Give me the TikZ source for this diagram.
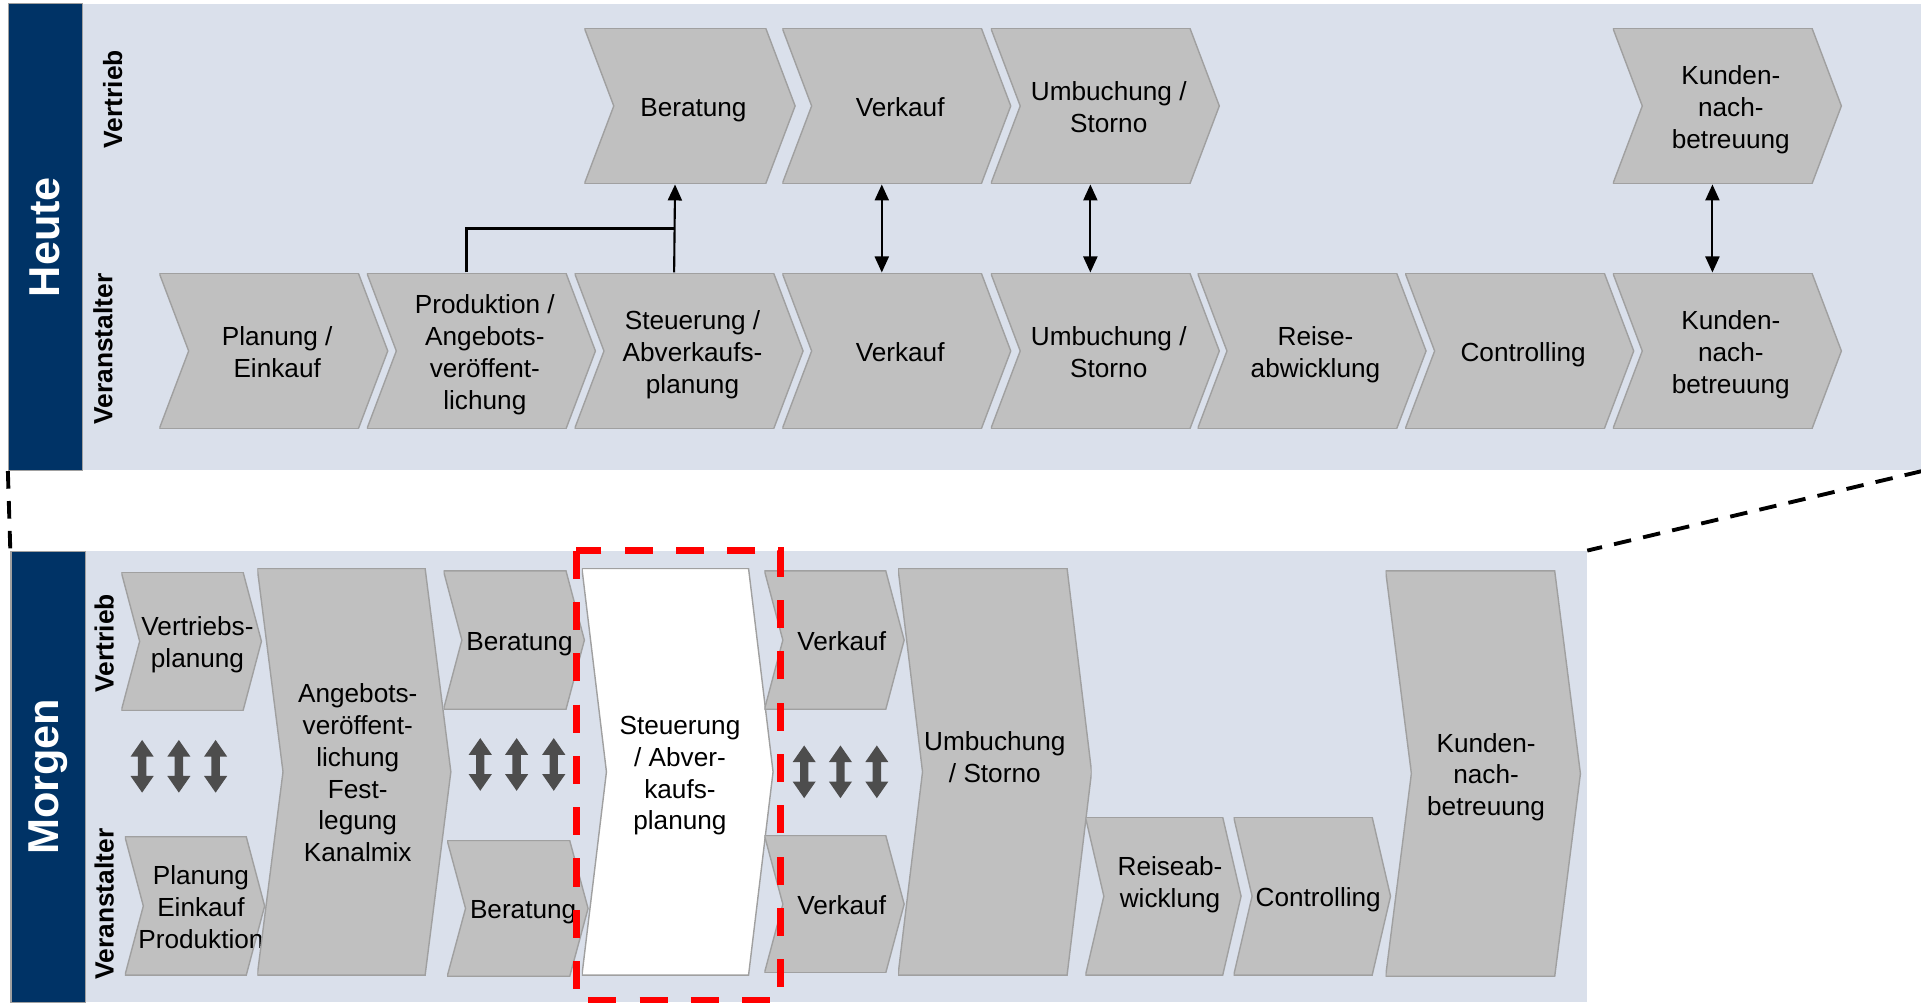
\documentclass[tikz,border=0pt]{standalone}
\usepackage{fontspec}
\setmainfont{Liberation Sans}
\usetikzlibrary{calc,arrows.meta}
\definecolor{panelbg}{HTML}{DAE0EB}
\definecolor{navy}{HTML}{003366}
\definecolor{chevgray}{HTML}{C0C0C0}
\definecolor{chevline}{HTML}{A0A0A0}
\definecolor{arrowgray}{HTML}{4D4D4D}
\def\pxu{0.012251cm}
\newcommand{\chevstrut}{\vrule height 7.4pt depth 0pt width 0pt}

\begin{document}
\begin{tikzpicture}[x=\pxu,y=-\pxu,
    panel/.style={fill=panelbg, inner sep=0},
    bar/.style={fill=navy, draw=chevline, line width=0.3pt, text=white, rotate=90, inner sep=0,
        font=\fontsize{12.3}{14}\selectfont\bfseries},
    lane/.style={rotate=90, inner sep=0, font=\fontsize{7.5}{9}\selectfont\bfseries},
    chevshape/.style={fill=chevgray, draw=chevline, line width=0.4pt},
    % depth of point, width, height, shift of the text
    chev/.style n args={4}{inner sep=0, align=center, font=\fontsize{7.45}{9.06}\selectfont,
        xshift=#4*\pxu, minimum width=(#2+2*#4)*\pxu, minimum height=#3*\pxu,
        execute at end node={\vrule height 0pt depth 1.56pt width 0pt},
        path picture={\filldraw[chevshape] (path picture bounding box.north west)
            -- ([xshift=-(#1+2*#4)*\pxu]path picture bounding box.north east)
            -- ([xshift=-2*#4*\pxu]path picture bounding box.east)
            -- ([xshift=-(#1+2*#4)*\pxu]path picture bounding box.south east)
            -- (path picture bounding box.south west)
            -- ([xshift=#1*\pxu]path picture bounding box.west) -- cycle;}},
    dblarrow/.style={inner sep=0, minimum width=18.9*\pxu, minimum height=43*\pxu,
        path picture={\fill[arrowgray, shift={(path picture bounding box.center)}]
            (0,-21.5) -- (9.45,-7.9) -- (3.4,-7.9) -- (3.4,7.9) -- (9.45,7.9) -- (0,21.5)
            -- (-9.45,7.9) -- (-3.4,7.9) -- (-3.4,-7.9) -- (-9.45,-7.9) -- cycle;}},
    link/.style={line width=0.6pt, {Triangle[length=1.6mm,width=1.4mm]}-{Triangle[length=1.6mm,width=1.4mm]}},
    uplink/.style={line width=0.6pt, -{Triangle[length=1.6mm,width=1.4mm]}},
    zoomline/.style={line width=1.1pt, dash pattern=on 5pt off 3.5pt},
    focus/.style={draw=red, line width=2pt, dash pattern=on 8pt off 6.6pt}]
    \useasboundingbox (0,0) rectangle (1568,818);

    % Panels
    \node[panel, minimum width=1561*\pxu, minimum height=381*\pxu] (heute) at (787.5,193.5) {};
    \node[panel, minimum width=1286*\pxu, minimum height=368*\pxu] (morgen) at (652,634) {};
    \node[bar, minimum width=381*\pxu, minimum height=60*\pxu] (hbar) at (37,193.5) {Heute};
    \node[bar, minimum width=368*\pxu, minimum height=61*\pxu] (mbar) at (39.5,634) {Morgen};

    % Lane labels
    \node[lane] (hvt) at (92,81) {Vertrieb};
    \node[lane] (hva) at (84,285) {Veranstalter};
    \node[lane] (mvt) at (85,525) {Vertrieb};
    \node[lane] (mva) at (85,738) {Veranstalter};

    % Heute: Vertrieb
    \node[chev={24}{172}{127}{3}] (hb) at (563,86.5) {\chevstrut Beratung};
    \node[chev={24}{186.5}{127}{3}] (hv) at (731.75,86.5) {\chevstrut Verkauf};
    \node[chev={24}{186.5}{127}{3}] (hu) at (902,86.5) {\chevstrut Umbuchung /\\Storno};
    \node[chev={24}{186.5}{127}{3}] (hk) at (1409.75,86.5) {\chevstrut Kunden-\\nach-\\betreuung};

    % Heute: Veranstalter
    \node[chev={24}{186.5}{127}{3}] (pl) at (223.25,286.5) {\chevstrut Planung /\\Einkauf};
    \node[chev={24}{186.5}{127}{3}] (pr) at (392.75,286.5) {\chevstrut Produktion /\\Angebots-\\veröffent-\\lichung};
    \node[chev={24}{186.5}{127}{3}] (st) at (562.25,286.5) {\chevstrut Steuerung /\\Abverkaufs-\\planung};
    \node[chev={24}{186.5}{127}{3}] (vv) at (731.75,286.5) {\chevstrut Verkauf};
    \node[chev={24}{186.5}{127}{3}] (vu) at (902,286.5) {\chevstrut Umbuchung /\\Storno};
    \node[chev={24}{186.5}{127}{3}] (re) at (1070.75,286.5) {\chevstrut Reise-\\abwicklung};
    \node[chev={24}{186.5}{127}{3}] (co) at (1240.25,286.5) {\chevstrut Controlling};
    \node[chev={24}{186.5}{127}{3}] (ku) at (1409.75,286.5) {\chevstrut Kunden-\\nach-\\betreuung};

    % Heute: links
    \coordinate (j) at ($(st.north)!0.5!(hb.south)+(-15,0)$);
    \draw[uplink] ($(st.north)+(-15,0)$) -- ($(hb.south)+(-15,0)$);
    \draw[line width=0.6pt] ($(pr.north)+(-15,0)$) |- (j);
    \draw[link] ($(hv.south)+(-15,0)$) -- ($(vv.north)+(-15,0)$);
    \draw[link] ($(hu.south)+(-15,0)$) -- ($(vu.north)+(-15,0)$);
    \draw[link] ($(hk.south)+(-15,0)$) -- ($(ku.north)+(-15,0)$);

    % Morgen
    \node[chev={15}{114.4}{113}{5}] (mvp) at (156.2,523.5) {\chevstrut Vertriebs-\\planung};
    \node[chev={15}{114}{113}{5}] (mpe) at (159,739.5) {\chevstrut Planung\\Einkauf\\Produktion};
    \node[chev={21}{158}{332}{3}] (mab) at (289,630) {\chevstrut Angebots-\\veröffent-\\lichung\\Fest-\\legung\\Kanalmix};
    \node[chev={15}{115}{113}{4.5}] (mb1) at (419.5,522.5) {\chevstrut Beratung};
    \node[chev={15}{115}{111}{4.5}] (mb2) at (422.5,741.5) {\chevstrut Beratung};
    \node[chev={20}{156}{332}{2}, chevshape/.append style={fill=white}] (mst) at (553,630) {\chevstrut Steuerung\\/ Abver-\\kaufs-\\planung};
    \node[chev={15}{114}{113}{6}] (mv1) at (681,522.5) {\chevstrut Verkauf};
    \node[chev={15}{114}{112}{6}] (mv2) at (681,738) {\chevstrut Verkauf};
    \node[chev={20}{158}{332}{0}] (mum) at (812,630) {\chevstrut Umbuchung\\/ Storno\\\mbox{}};
    \node[chev={15}{127}{129}{5.5}] (mre) at (949.5,731.5) {\chevstrut Reiseab-\\wicklung\\[-0.6pt]\mbox{}};
    \node[chev={15}{128}{129}{5}] (mco) at (1071,731.5) {\chevstrut Controlling};
    \node[chev={21}{159}{331}{2.5}] (mku) at (1210.5,631.5) {\chevstrut Kunden-\\nach-\\betreuung};

    % Morgen: exchange arrows
    \node[dblarrow] (da1) at (116,625.5) {};
    \node[dblarrow] (da2) at (146,625.5) {};
    \node[dblarrow] (da3) at (176,625.5) {};
    \node[dblarrow] (da4) at (392,624) {};
    \node[dblarrow] (da5) at (421.7,624) {};
    \node[dblarrow] (da6) at (452,624) {};
    \node[dblarrow] (da7) at (656.4,630) {};
    \node[dblarrow] (da8) at (686,630) {};
    \node[dblarrow] (da9) at (715.7,630) {};

    % Focus frame
    \draw[focus] ($(mst.north west)+(-4,-14)$) rectangle ($(mst.south east)+(1.4,20)$);

    % Zoom lines
    \draw[zoomline] (heute.south west) -- (morgen.north west);
    \draw[zoomline] (heute.south east) -- (morgen.north east);
\end{tikzpicture}
\end{document}
